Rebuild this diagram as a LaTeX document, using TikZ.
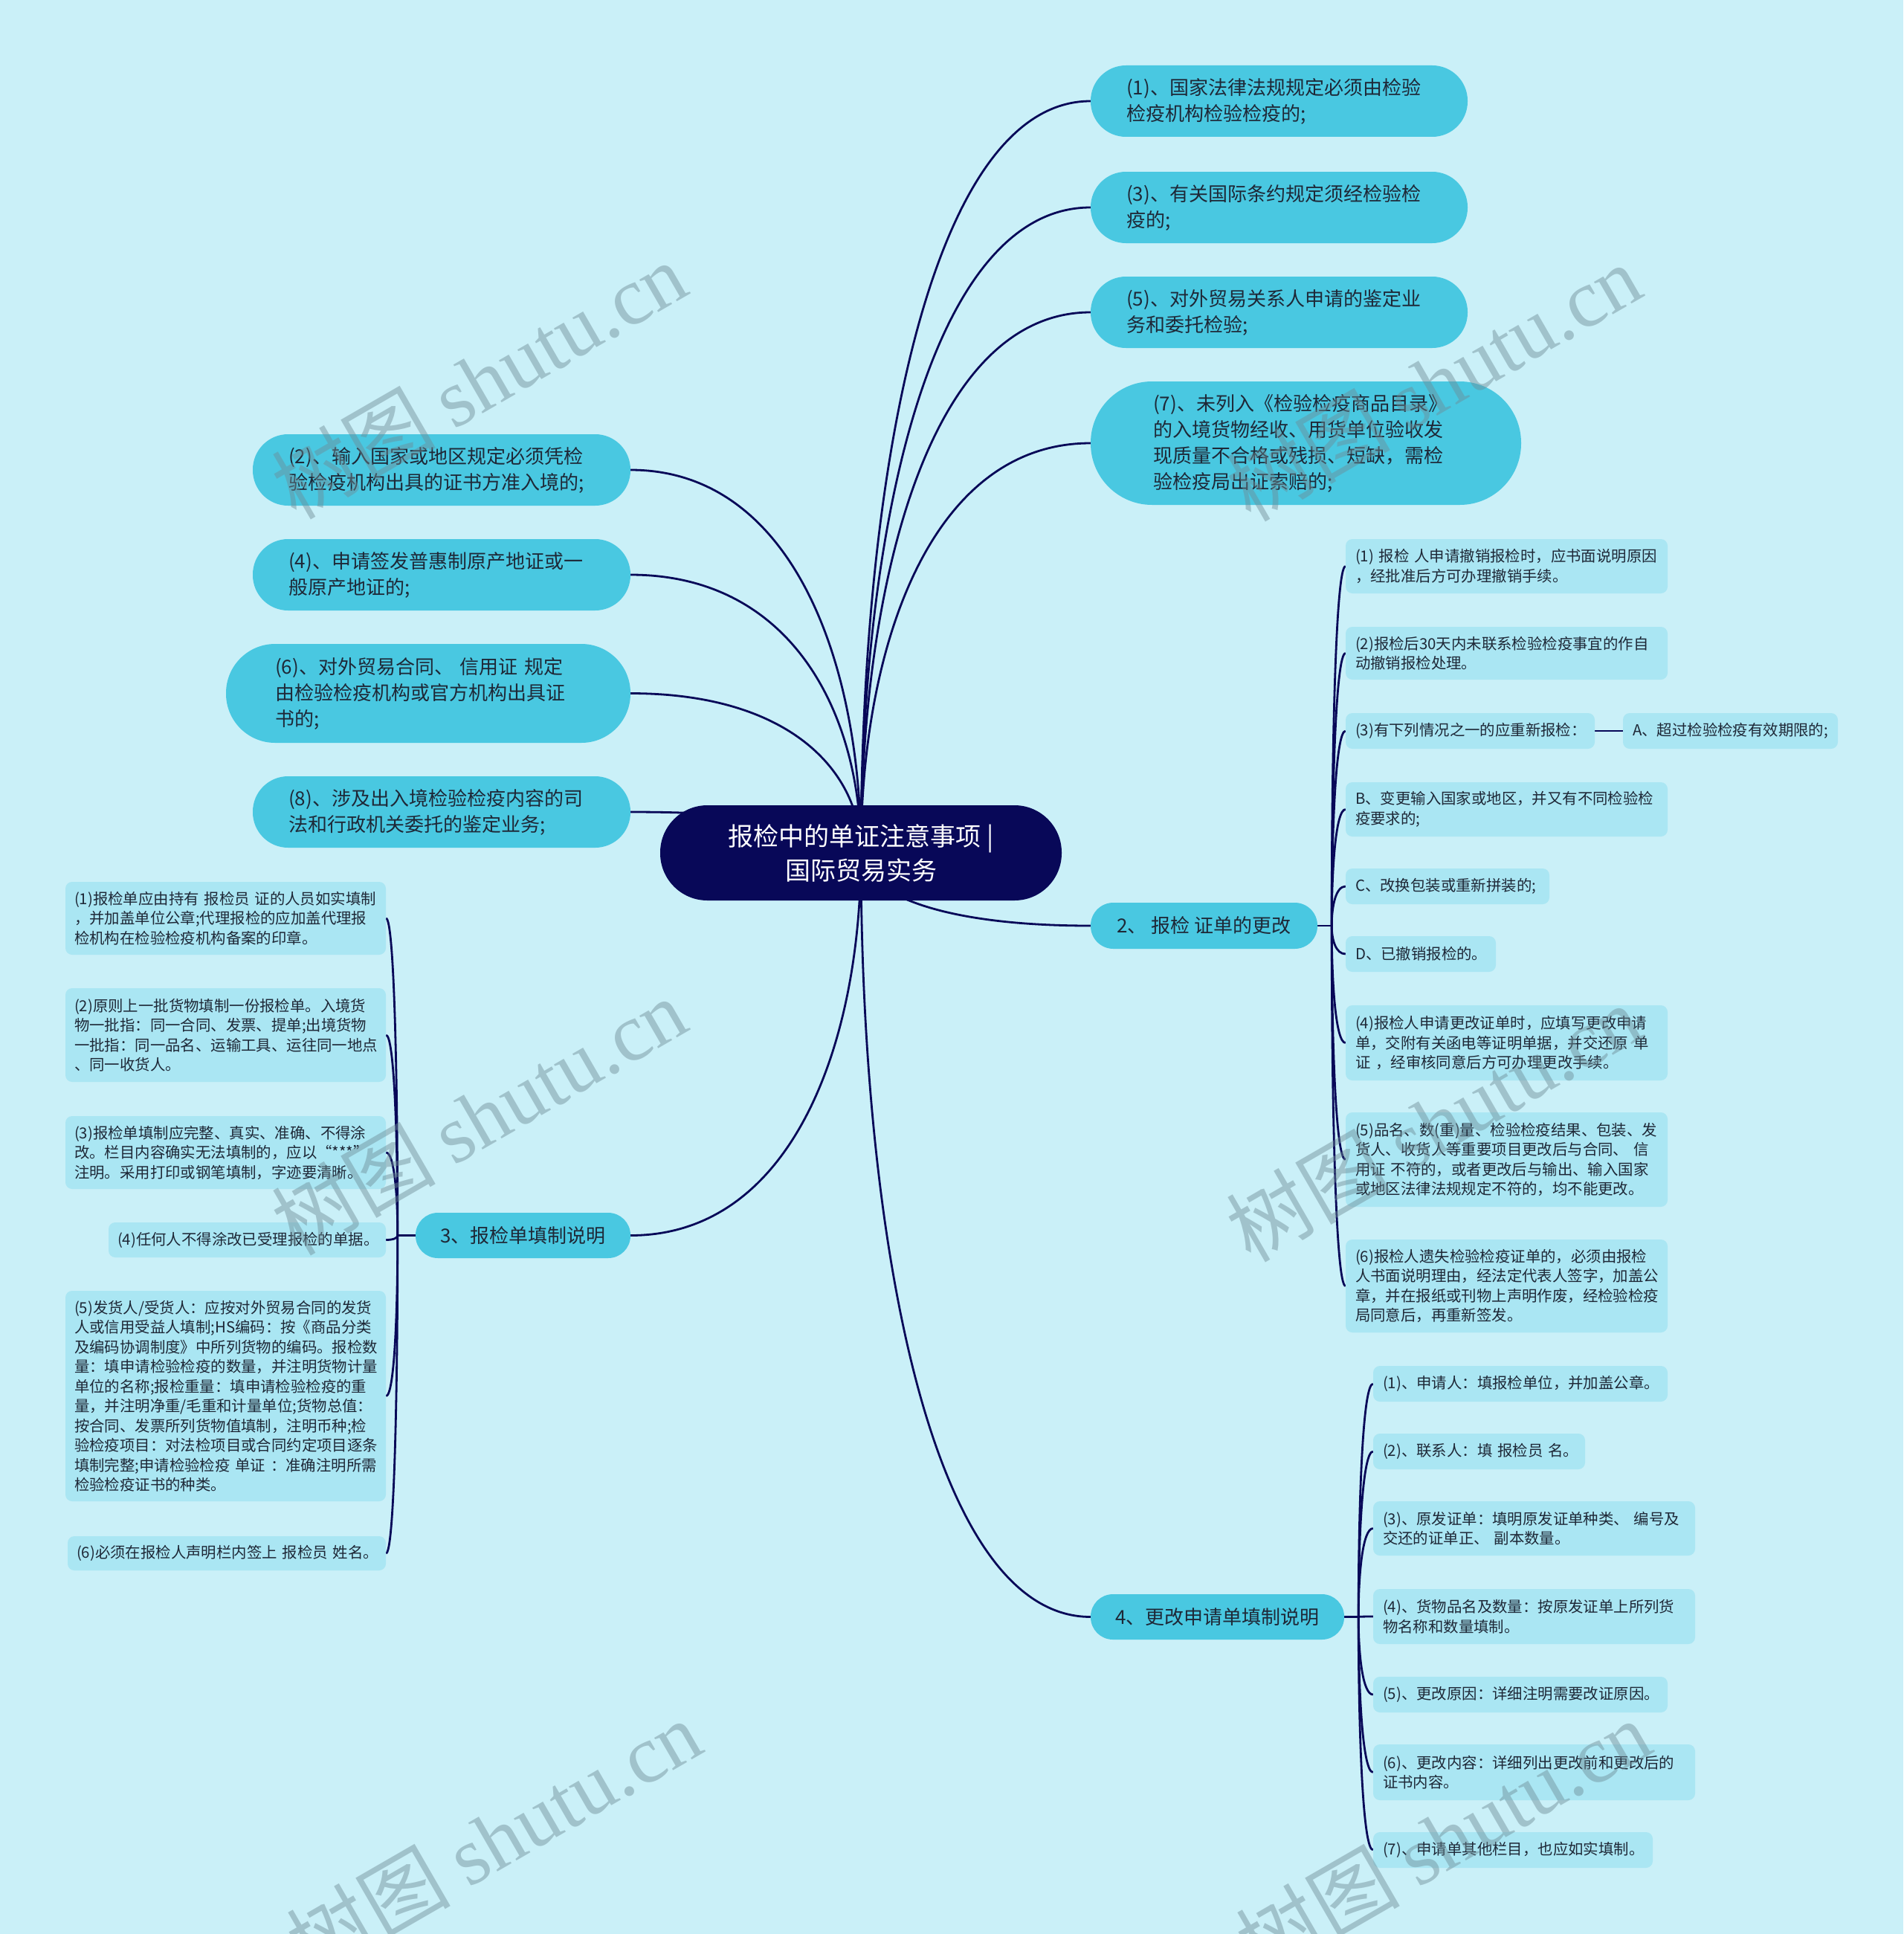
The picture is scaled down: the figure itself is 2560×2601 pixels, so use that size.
\documentclass[tikz,border=0pt]{standalone}
\usepackage{fontspec}
\setmainfont{Noto Sans CJK SC}
\newfontfamily\wmlatin{Liberation Serif}
\usetikzlibrary{calc}
\definecolor{bgcol}{RGB}{202,240,248}
\definecolor{rootcol}{RGB}{8,8,88}
\definecolor{topiccol}{RGB}{73,200,225}
\definecolor{leafcol}{RGB}{170,230,243}
\definecolor{inkcol}{RGB}{30,40,55}
\definecolor{wmcol}{RGB}{110,140,150}
\pgfdeclarelayer{bg}
\pgfdeclarelayer{edges}
\pgfsetlayers{bg,edges,main}

\begin{document}
\begin{tikzpicture}[
 x=1pt,y=-1pt,
 dims/.style 2 args={minimum width=#1pt,minimum height=#2pt},
 tw/.style={text width=#1pt},
 root/.style={fill=rootcol,text=white,inner sep=0pt,align=center,font=\fontsize{34}{46}\selectfont},
 topic/.style={fill=topiccol,text=inkcol,inner sep=0pt,align=left,font=\fontsize{26}{35}\selectfont},
 branch/.style={topic,align=center},
 leaf/.style={fill=leafcol,text=inkcol,inner sep=0pt,align=left,rounded corners=9pt,font=\fontsize{20.4}{26.5}\selectfont},
 link/.style={draw=rootcol,line width=2.8pt},
 wmark/.style={text=wmcol,text opacity=.45,rotate=30,font=\fontsize{110}{110}\selectfont}]
 % Background.
 \begin{pgfonlayer}{bg}
  \fill[bgcol] (0,0) rectangle (2560,2601);
 \end{pgfonlayer}
 % Root.
 \node[root,dims={540}{128},rounded corners=63.5pt] (root) at (1158,1147) {报检中的单证注意事项 |\\国际贸易实务};
 % Upper topics, right.
 \node[topic,dims={507}{96},rounded corners=47.5pt,tw=411] (n1) at (1720.5,136) {(1)、国家法律法规规定必须由检验\\检疫机构检验检疫的;};
 \node[topic,dims={507}{96},rounded corners=47.5pt,tw=411] (n3) at (1720.5,279) {(3)、有关国际条约规定须经检验检\\疫的;};
 \node[topic,dims={507}{96},rounded corners=47.5pt,tw=411] (n5) at (1720.5,420) {(5)、对外贸易关系人申请的鉴定业\\务和委托检验;};
 \node[topic,dims={579}{166},rounded corners=82.5pt,tw=411] (n7) at (1756.5,596) {(7)、未列入《检验检疫商品目录》\\的入境货物经收、用货单位验收发\\现质量不合格或残损、短缺，需检\\验检疫局出证索赔的;};
 % Upper topics, left.
 \node[topic,dims={508}{96},rounded corners=47.5pt,tw=412] (n2) at (594,632) {(2)、输入国家或地区规定必须凭检\\验检疫机构出具的证书方准入境的;};
 \node[topic,dims={508}{96},rounded corners=47.5pt,tw=412] (n4) at (594,773) {(4)、申请签发普惠制原产地证或一\\般原产地证的;};
 \node[topic,dims={544}{133},rounded corners=66pt,tw=412] (n6) at (576,932.5) {(6)、对外贸易合同、~信用证~规定\\由检验检疫机构或官方机构出具证\\书的;};
 \node[topic,dims={508}{96},rounded corners=47.5pt,tw=412] (n8) at (594,1092) {(8)、涉及出入境检验检疫内容的司\\法和行政机关委托的鉴定业务;};
 % Branches.
 \node[branch,dims={305}{62},rounded corners=30.5pt] (b2) at (1619.5,1245) {2、 报检 证单的更改};
 \node[branch,dims={289}{61},rounded corners=30pt] (b3) at (703.5,1661.5) {3、报检单填制说明};
 \node[branch,dims={341}{61},rounded corners=30pt] (b4) at (1637.5,2174.5) {4、更改申请单填制说明};
 % Leaves of branch 3.
 \node[leaf,dims={431}{98},tw=407] (l1) at (303.5,1235) {(1)报检单应由持有~报检员~证的人员如实填制\\，并加盖单位公章;代理报检的应加盖代理报\\检机构在检验检疫机构备案的印章。};
 \node[leaf,dims={431}{126},tw=407] (l2) at (303.5,1392) {(2)原则上一批货物填制一份报检单。入境货\\物一批指：同一合同、发票、提单;出境货物\\一批指：同一品名、运输工具、运往同一地点\\、同一收货人。};
 \node[leaf,dims={431}{98},tw=407] (l3) at (303.5,1550) {(3)报检单填制应完整、真实、准确、不得涂\\改。栏目内容确实无法填制的，应以“***”\\注明。采用打印或钢笔填制，字迹要清晰。};
 \node[leaf,dims={373}{47},tw=349] (l4) at (332.5,1667.5) {(4)任何人不得涂改已受理报检的单据。};
 \node[leaf,dims={431}{283},tw=407] (l5) at (303.5,1877.5) {(5)发货人/受货人：应按对外贸易合同的发货\\人或信用受益人填制;HS编码：按《商品分类\\及编码协调制度》中所列货物的编码。报检数\\量：填申请检验检疫的数量，并注明货物计量\\单位的名称;报检重量：填申请检验检疫的重\\量，并注明净重/毛重和计量单位;货物总值：\\按合同、发票所列货物值填制，注明币种;检\\验检疫项目：对法检项目或合同约定项目逐条\\填制完整;申请检验检疫~单证~：准确注明所需\\检验检疫证书的种类。};
 \node[leaf,dims={428}{46},tw=404] (l6) at (305,2089) {(6)必须在报检人声明栏内签上~报检员~姓名。};
 % Leaves of branch 2.
 \node[leaf,dims={433}{73},tw=407] (r1) at (2026.5,761.5) {(1)~报检~人申请撤销报检时，应书面说明原因\\，经批准后方可办理撤销手续。};
 \node[leaf,dims={433}{71},tw=407] (r2) at (2026.5,878.5) {(2)报检后30天内未联系检验检疫事宜的作自\\动撤销报检处理。};
 \node[leaf,dims={335}{48},tw=309] (r3) at (1977.5,983) {(3)有下列情况之一的应重新报检：};
 \node[leaf,dims={289}{48},tw=263] (r3a) at (2327.5,983) {A、超过检验检疫有效期限的;};
 \node[leaf,dims={433}{73},tw=407] (r4) at (2026.5,1088.5) {B、变更输入国家或地区，并又有不同检验检\\疫要求的;};
 \node[leaf,dims={274}{48},tw=248] (r5) at (1947,1192) {C、改换包装或重新拼装的;};
 \node[leaf,dims={202}{48},tw=176] (r6) at (1911,1283) {D、已撤销报检的。};
 \node[leaf,dims={433}{101},tw=407] (r7) at (2026.5,1402.5) {(4)报检人申请更改证单时，应填写更改申请\\单，交附有关函电等证明单据，并交还原~单\\证~，经审核同意后方可办理更改手续。};
 \node[leaf,dims={433}{127},tw=407] (r8) at (2026.5,1559.5) {(5)品名、数(重)量、检验检疫结果、包装、发\\货人、收货人等重要项目更改后与合同、~信\\用证~不符的，或者更改后与输出、输入国家\\或地区法律法规规定不符的，均不能更改。};
 \node[leaf,dims={433}{125},tw=407] (r9) at (2026.5,1729.5) {(6)报检人遗失检验检疫证单的，必须由报检\\人书面说明理由，经法定代表人签字，加盖公\\章，并在报纸或刊物上声明作废，经检验检疫\\局同意后，再重新签发。};
 % Leaves of branch 4.
 \node[leaf,dims={396}{48},tw=370] (q1) at (2045,1861) {(1)、申请人：填报检单位，并加盖公章。};
 \node[leaf,dims={285}{48},tw=259] (q2) at (1989.5,1952) {(2)、联系人：填~报检员~名。};
 \node[leaf,dims={433}{73},tw=407] (q3) at (2063.5,2055.5) {(3)、原发证单：填明原发证单种类、~编号及\\交还的证单正、~副本数量。};
 \node[leaf,dims={433}{74},tw=407] (q4) at (2063.5,2174) {(4)、货物品名及数量：按原发证单上所列货\\物名称和数量填制。};
 \node[leaf,dims={396}{48},tw=370] (q5) at (2045,2279) {(5)、更改原因：详细注明需要改证原因。};
 \node[leaf,dims={433}{75},tw=407] (q6) at (2063.5,2383.5) {(6)、更改内容：详细列出更改前和更改后的\\证书内容。};
 \node[leaf,dims={376}{48},tw=350] (q7) at (2035,2488) {(7)、申请单其他栏目，也应如实填制。};
 % Connectors.
 \begin{pgfonlayer}{edges}
  \foreach \n in {n1,n3,n5,n7,b2,b4}
   \draw[link] (root.center) .. controls ($(root.center)!.5!(root.center|-\n.west)$) and ($(root.center|-\n.west)!.3!(\n.west)$) .. (\n.west);
  \foreach \n in {n2,n4,n6,n8,b3}
   \draw[link] (root.center) .. controls ($(root.center)!.5!(root.center|-\n.east)$) and ($(root.center|-\n.east)!.3!(\n.east)$) .. (\n.east);
  \draw[link] (b3.west) -- ++(-24,0) coordinate (t3);
  \foreach \n in {l1,l2,l3,l4,l5,l6}
   \draw[link] (t3) .. controls ($(t3)!.5!(t3|-\n.east)$) and ($(t3|-\n.east)!.3!(\n.east)$) .. (\n.east);
  \draw[link] (b2.east) -- ++(19,0) coordinate (t2);
  \foreach \n in {r1,r2,r3,r4,r5,r6,r7,r8,r9}
   \draw[link] (t2) .. controls ($(t2)!.5!(t2|-\n.west)$) and ($(t2|-\n.west)!.3!(\n.west)$) .. (\n.west);
  \draw[link] (r3.east) -- (r3a.west);
  \draw[link] (b4.east) -- ++(19,0) coordinate (t4);
  \foreach \n in {q1,q2,q3,q4,q5,q6,q7}
   \draw[link] (t4) .. controls ($(t4)!.5!(t4|-\n.west)$) and ($(t4|-\n.west)!.3!(\n.west)$) .. (\n.west);
 \end{pgfonlayer}
 % Watermarks.
 \begin{scope}
  \clip (0,0) rectangle (2560,2601);
  \foreach \x/\y in {644/511,1928/514,644/1501,1928/1510,664/2472,1941/2472}
   \node[wmark] (wm\x\y) at (\x,\y) {树图 {\wmlatin shutu.cn}};
 \end{scope}
\end{tikzpicture}
\end{document}
